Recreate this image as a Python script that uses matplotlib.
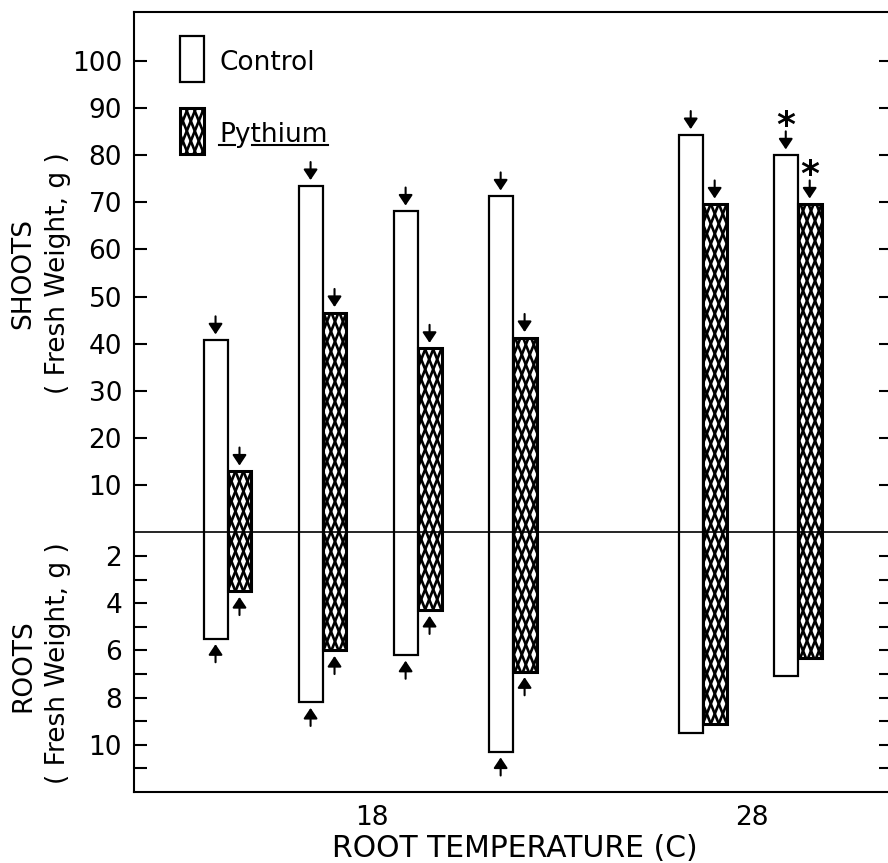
import matplotlib
matplotlib.use("Agg")
import matplotlib.pyplot as plt
from matplotlib.patches import Rectangle
from matplotlib.collections import LineCollection
from matplotlib.transforms import IdentityTransform

plt.rcParams['font.family'] = ['DejaVu Sans']

# data
temps = [14.2, 16.7, 19.2, 21.7, 26.7, 29.2]          # root temperature (C)
shoot_control = [40.8, 73.5, 68.1, 71.3, 84.3, 80.0]  # shoots, fresh weight g
shoot_pythium = [13.0, 46.6, 39.0, 41.3, 69.6, 69.6]
root_control = [5.5, 8.2, 6.2, 10.3, 9.5, 7.1]        # roots, fresh weight g
root_pythium = [3.5, 6.0, 4.3, 6.9, 9.1, 6.3]
root_arrow = [True, True, True, True, False, False]
star = [False, False, False, False, False, True]

shoot_ticks = list(range(10, 101, 10))
root_ticks = list(range(2, 12))
x_ticks = [18, 28]

# roots are drawn downward from the dividing line; 1 root unit = 5 shoot units
ROOT_SCALE = 5.0
ROOT_ORIGIN = 1.0


def root_y(r):
    return -(r - ROOT_ORIGIN) * ROOT_SCALE


def crosshatch(ax, patch, step=8.0, slope=2.5, lw=1.9):
    # dense diamond hatch, drawn as two families of steep lines clipped to the patch
    bb = patch.get_extents()
    h = bb.y1 - bb.y0
    run = h / slope
    segs = []
    c = bb.x0 - run - step
    while c < bb.x1 + step:
        segs.append([(c, bb.y0), (c + run, bb.y1)])
        c += step
    c = bb.x0 - step
    while c < bb.x1 + run + step:
        segs.append([(c, bb.y0), (c - run, bb.y1)])
        c += step
    lc = LineCollection(segs, colors='black', linewidths=lw,
                        transform=IdentityTransform(), zorder=patch.get_zorder() + 0.1)
    ax.add_collection(lc, autolim=False)
    lc.set_clip_path(patch)


fig = plt.figure(figsize=(8.88, 8.63), dpi=100)
ax = fig.add_axes([134 / 888, 71 / 863, 758 / 888, 780 / 863])
ax.set_xlim(11.74, 31.68)
ax.set_ylim(-55, 110.3)

w = 0.63
for i, t in enumerate(temps):
    xc = t - w / 2
    xp = t + w / 2
    yc0 = root_y(root_control[i])
    yp0 = root_y(root_pythium[i])
    ax.bar(xc, shoot_control[i] - yc0, bottom=yc0, width=w,
           color='white', edgecolor='black', linewidth=1.6, zorder=2)
    bp = ax.bar(xp, shoot_pythium[i] - yp0, bottom=yp0, width=w,
                color='white', edgecolor='black', linewidth=2.2, zorder=2)
    crosshatch(ax, bp.patches[0])

    # arrows marking the bar ends
    for x, top, bot in [(xc, shoot_control[i], yc0), (xp, shoot_pythium[i], yp0)]:
        ax.annotate('', xy=(x, top), xytext=(0, 17), textcoords='offset points',
                    arrowprops=dict(arrowstyle='-|>,head_length=0.45,head_width=0.3',
                                    mutation_scale=14, lw=1.5, color='black',
                                    shrinkA=0, shrinkB=4), zorder=4)
        if root_arrow[i]:
            ax.annotate('', xy=(x, bot), xytext=(0, -17), textcoords='offset points',
                        arrowprops=dict(arrowstyle='-|>,head_length=0.45,head_width=0.3',
                                        mutation_scale=14, lw=1.5, color='black',
                                        shrinkA=0, shrinkB=4), zorder=4)
        if star[i]:
            ax.annotate('*', xy=(x, top), xytext=(0, 21), textcoords='offset points',
                        ha='center', va='center', fontsize=26, fontweight='bold')

ax.axhline(0, color='black', lw=1.2, zorder=3)

yt = shoot_ticks + [root_y(r) for r in root_ticks]
yl = [str(v) for v in shoot_ticks] + [str(r) if r % 2 == 0 else '' for r in root_ticks]
ax.set_yticks(yt)
ax.set_yticklabels(yl)
ax.set_xticks(x_ticks)
ax.set_xticklabels([str(v) for v in x_ticks])
ax.tick_params(axis='y', direction='in', length=9.5, width=1.5, right=True,
               labelsize=19, pad=8.6)
ax.tick_params(axis='x', length=0, labelsize=19, pad=9)
for s in ax.spines.values():
    s.set_linewidth(1.5)

# legend drawn by hand
box_c = Rectangle((46 / 758, 710 / 780), 24 / 758, 46 / 780, transform=ax.transAxes,
                  facecolor='white', edgecolor='black', lw=1.6, zorder=2)
box_p = Rectangle((46 / 758, 638 / 780), 24 / 758, 46 / 780, transform=ax.transAxes,
                  facecolor='white', edgecolor='black', lw=2.2, zorder=2)
ax.add_patch(box_c)
ax.add_patch(box_p)
crosshatch(ax, box_p)

tx = 85 / 758
ax.text(tx, (792 - 70.5) / 780, 'Control', transform=ax.transAxes, fontsize=19,
        va='baseline', ha='left')
ax.text(tx, (792 - 141.5) / 780, 'Pythium', transform=ax.transAxes, fontsize=19,
        va='baseline', ha='left')

fig.canvas.draw()
rend = fig.canvas.get_renderer()
widths = {}
for s in ['P', 'Py', 'Pythium']:
    tmp = ax.text(tx, 0.5, s, transform=ax.transAxes, fontsize=19)
    widths[s] = tmp.get_window_extent(rend).width / (758)
    tmp.remove()
uy = (792 - 145) / 780
ax.plot([tx, tx + widths['P']], [uy, uy], color='black', lw=1.5,
        transform=ax.transAxes, clip_on=False)
ax.plot([tx + widths['Py'] + 0.002, tx + widths['Pythium']], [uy, uy], color='black',
        lw=1.5, transform=ax.transAxes, clip_on=False)

# axis titles
fig.text(23 / 888, 1 - 273 / 863, 'SHOOTS', rotation=90, fontsize=19,
         ha='center', va='center')
fig.text(58 / 888, 1 - 273 / 863, '( Fresh Weight, g )', rotation=90, fontsize=19,
         ha='center', va='center')
fig.text(23 / 888, 1 - 666 / 863, 'ROOTS', rotation=90, fontsize=19,
         ha='center', va='center')
fig.text(58 / 888, 1 - 663 / 863, '( Fresh Weight, g )', rotation=90, fontsize=19,
         ha='center', va='center')
fig.text(515 / 888, 1 - 857 / 863, 'ROOT TEMPERATURE (C)', fontsize=21.5,
         ha='center', va='baseline')

fig.savefig('out.png', dpi=100)
